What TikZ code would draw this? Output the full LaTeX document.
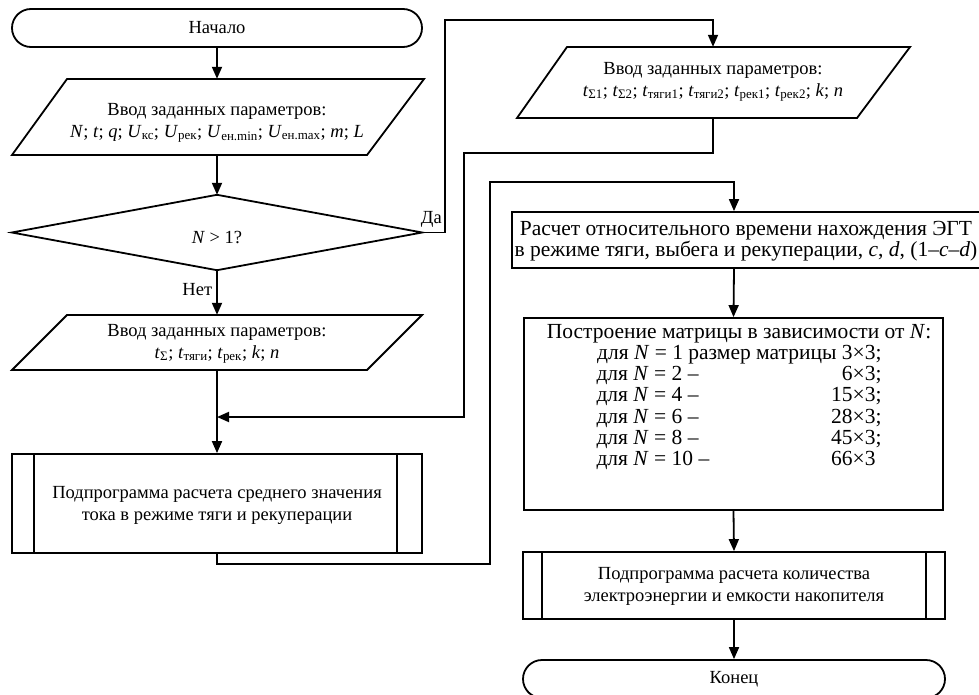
\documentclass[tikz,border=0pt]{standalone}
\usepackage{fontspec}
\setmainfont{Liberation Serif}
\usetikzlibrary{arrows.meta,calc}
\newcommand{\sbs}[1]{\textsubscript{#1}}
\newcommand{\iv}[1]{\textit{#1}}
\begin{document}
\begin{tikzpicture}[x=1pt,y=-1pt,
  every node/.style={font=\fontsize{18.5}{22}\selectfont, inner sep=0pt},
  big/.style={font=\fontsize{21.5}{21.5}\selectfont},
  ln/.style={line width=1.8pt},
  arr/.style={ln,-{Triangle[length=12pt,width=10pt]}},
  shp/.style={draw, line width=1.8pt},
  term/.style={shp, rounded corners=19pt, minimum width=410pt, minimum height=38pt},
  proc/.style={shp, rectangle},
  txt/.style={align=center}
]
\useasboundingbox (0,0) rectangle (979,695);

% ---------- left column ----------
\node[term] (start) at (217,28) {Начало};

\node[minimum width=356pt, minimum height=76pt] (p1) at (217,117) {};
\draw[ln] (67,79) -- (424,79) -- (367,155) -- (12,155) -- cycle;
\node[txt] (p1t) at (217,123) {Ввод заданных параметров:\\ \iv{N}; \iv{t}; \iv{q}; \iv{U}\sbs{кс}; \iv{U}\sbs{рек}; \iv{U}\sbs{ен.min}; \iv{U}\sbs{ен.max}; \iv{m}; \iv{L}};

\node[minimum width=410pt, minimum height=75pt] (d) at (217,232.5) {};
\draw[ln] (d.west) -- (d.north) -- (d.east) -- (d.south) -- cycle;
\node (dt) at (217,238) {\iv{N} > 1?};

\node[minimum width=355pt, minimum height=55pt] (p2) at (217,342.5) {};
\draw[ln] (67,315) -- (422,315) -- (367,370) -- (12,370) -- cycle;
\node[txt] (p2t) at (217,344) {Ввод заданных параметров:\\ \iv{t}\sbs{Σ}; \iv{t}\sbs{тяги}; \iv{t}\sbs{рек}; \iv{k}; \iv{n}};

\coordinate (j1) at (217,417);

\node[proc, minimum width=410pt, minimum height=99pt] (sub1) at (217,503.5) {};
\draw[ln] ($(sub1.north west)+(23,0)$) -- ($(sub1.south west)+(23,0)$);
\draw[ln] ($(sub1.north east)+(-26,0)$) -- ($(sub1.south east)+(-26,0)$);
\node[txt] (sub1t) at (217,505) {Подпрограмма расчета среднего значения\\тока в режиме тяги и рекуперации};

% ---------- right column ----------
\node[minimum width=341pt, minimum height=71pt] (p3) at (713,82.5) {};
\draw[ln] (567,47) -- (910,47) -- (857,118) -- (517,118) -- cycle;
\node[txt] (p3t) at (713,82) {Ввод заданных параметров:\\ \iv{t}\sbs{Σ1}; \iv{t}\sbs{Σ2}; \iv{t}\sbs{тяги1}; \iv{t}\sbs{тяги2}; \iv{t}\sbs{рек1}; \iv{t}\sbs{рек2}; \iv{k}; \iv{n}};

\node[proc, minimum width=478pt, minimum height=56pt] (calc) at (751,240) {};
\node[txt, big] (calct) at (746,241) {Расчет относительного времени нахождения ЭГТ\\в режиме тяги, выбега и рекуперации, \iv{c}, \iv{d}, (1–\iv{c}–\iv{d})};

\node[proc, minimum width=419pt, minimum height=192pt] (mat) at (733.5,414) {};
\node[txt, big, anchor=north, font=\fontsize{21.5}{21.2}\selectfont] (matt) at (739,324) {Построение матрицы в зависимости от \iv{N}:\\
\makebox[285pt][r]{для \iv{N} = 1 размер матрицы 3×3;}\\
\makebox[285pt]{для \iv{N} = 2 –\hfill 6×3;}\\
\makebox[285pt]{для \iv{N} = 4 –\hfill 15×3;}\\
\makebox[285pt]{для \iv{N} = 6 –\hfill 28×3;}\\
\makebox[285pt]{для \iv{N} = 8 –\hfill 45×3;}\\
\makebox[285pt]{для \iv{N} = 10 –\hfill 66×3\phantom{;}}};

\node[proc, minimum width=422pt, minimum height=67pt] (sub2) at (734,585.5) {};
\draw[ln] ($(sub2.north west)+(20,0)$) -- ($(sub2.south west)+(20,0)$);
\draw[ln] ($(sub2.north east)+(-20,0)$) -- ($(sub2.south east)+(-20,0)$);
\node[txt] (sub2t) at (734,586) {Подпрограмма расчета количества\\электроэнергии и емкости накопителя};

\node[term, minimum width=422pt] (end) at (734,679) {Конец};

\coordinate (cin) at (calc.north -| sub2.north);
\coordinate (cout) at (calc.south -| sub2.north);

% ---------- connectors ----------
\draw[arr] (start.south) -- (p1.north);
\draw[arr] (p1.south) -- (d.north);
\draw[arr] (d.south) -- node[pos=0.44, anchor=east, xshift=-4pt] {Нет} (p2.north);
\draw[arr] (p2.south) -- (sub1.north);
\draw[arr] (d.east) -| (445,20) -| (p3.north);
\node[anchor=base east] (da) at (442,223) {Да};
\draw[arr] (p3.south) |- (464,153) |- (j1);
\draw[arr] (sub1.south) -- ++(0,10) -| (490,182) -| (cin);
\draw[arr] (cout) -- (mat.north);
\draw[arr] (mat.south) -- (sub2.north);
\draw[arr] (sub2.south) -- (end.north);
\end{tikzpicture}
\end{document}
